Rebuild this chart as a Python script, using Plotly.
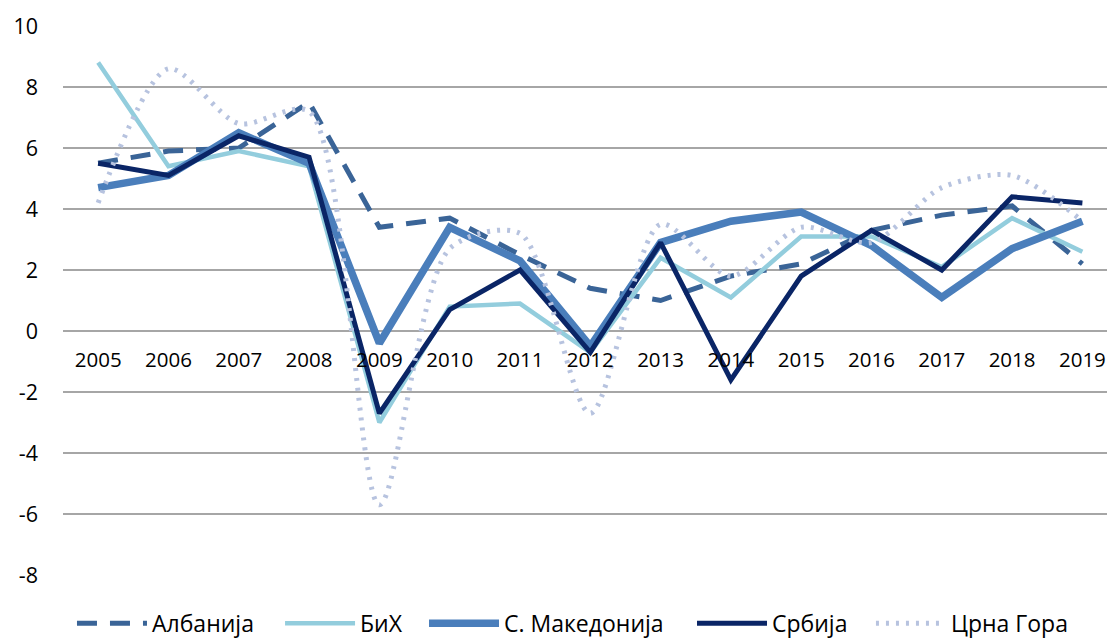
import plotly.graph_objects as go

years = ["2005", "2006", "2007", "2008", "2009", "2010", "2011", "2012",
         "2013", "2014", "2015", "2016", "2017", "2018", "2019"]

albania = [5.5, 5.9, 6.0, 7.5, 3.4, 3.7, 2.5, 1.4, 1.0, 1.8, 2.2, 3.3, 3.8, 4.1, 2.2]
bih = [8.8, 5.4, 5.9, 5.4, -3.0, 0.8, 0.9, -0.7, 2.4, 1.1, 3.1, 3.1, 2.1, 3.7, 2.6]
makedonija = [4.7, 5.1, 6.5, 5.5, -0.4, 3.4, 2.3, -0.5, 2.9, 3.6, 3.9, 2.8, 1.1, 2.7, 3.6]
srbija = [5.5, 5.1, 6.4, 5.7, -2.7, 0.7, 2.0, -0.7, 2.9, -1.6, 1.8, 3.3, 2.0, 4.4, 4.2]
crna_gora = [4.2, 8.6, 6.8, 7.2, -5.7, 2.7, 3.2, -2.7, 3.5, 1.8, 3.4, 2.9, 4.7, 5.1, 3.6]

names = ["Албанија", "БиХ", "С. Македонија", "Србија", "Црна Гора"]
y_ticks = [10, 8, 6, 4, 2, 0, -2, -4, -6, -8]
y_tick_labels = ["10", "8", "6", "4", "2", "0", "-2", "-4", "-6", "-8"]

legend_ids = ["legend", "legend2", "legend3", "legend4", "legend5"]
legend_x = [0.0086, 0.2079, 0.3458, 0.6025, 0.7739]

fig = go.Figure()
fig.add_trace(go.Scatter(x=years, y=albania, name=names[0], mode="lines", legend=legend_ids[0],
                         line=dict(color="#3a6497", width=5, dash="20px,13px")))
fig.add_trace(go.Scatter(x=years, y=bih, name=names[1], mode="lines", legend=legend_ids[1],
                         line=dict(color="#93cddd", width=4.5)))
fig.add_trace(go.Scatter(x=years, y=makedonija, name=names[2], mode="lines", legend=legend_ids[2],
                         line=dict(color="#4a7ebb", width=7.5)))
fig.add_trace(go.Scatter(x=years, y=srbija, name=names[3], mode="lines", legend=legend_ids[3],
                         line=dict(color="#0a2566", width=5)))
fig.add_trace(go.Scatter(x=years, y=crna_gora, name=names[4], mode="lines", legend=legend_ids[4],
                         line=dict(color="#b7c3df", width=5, dash="3px,7px",
                                   shape="spline", smoothing=0.8)))

font_family = "Open Sans, Liberation Sans, sans-serif"

legend_common = dict(orientation="h", xanchor="left", yref="container", y=0.029,
                     yanchor="middle",
                     font=dict(size=23, family=font_family, color="black"),
                     itemwidth=70, bgcolor="rgba(0,0,0,0)")

layout_legends = {}
for lid, lx in zip(legend_ids, legend_x):
    layout_legends[lid] = dict(legend_common, x=lx)

fig.update_layout(
    width=1107, height=642,
    margin=dict(l=63, r=0, t=26, b=67, autoexpand=False),
    paper_bgcolor="white", plot_bgcolor="white",
    font=dict(family=font_family, size=20, color="black"),
    showlegend=True,
    xaxis=dict(type="category", range=[-0.5, 14.35], showgrid=False, showline=False,
               zeroline=False, ticks="", anchor="free", position=8 / 18,
               automargin=False, ticklabelstandoff=14, tickfont=dict(size=20.5)),
    yaxis=dict(range=[-8, 10], tickvals=y_ticks, ticktext=y_tick_labels,
               showgrid=True, gridcolor="#a6a6a6",
               gridwidth=2, zeroline=False, showline=False, ticks="", automargin=False,
               ticklabelstandoff=24, tickfont=dict(size=21.5)),
    **layout_legends,
)

fig.write_html(
    "out.html",
    config={"displayModeBar": False},
    post_script="document.body.style.margin='0';document.body.style.overflow='hidden';",
)
